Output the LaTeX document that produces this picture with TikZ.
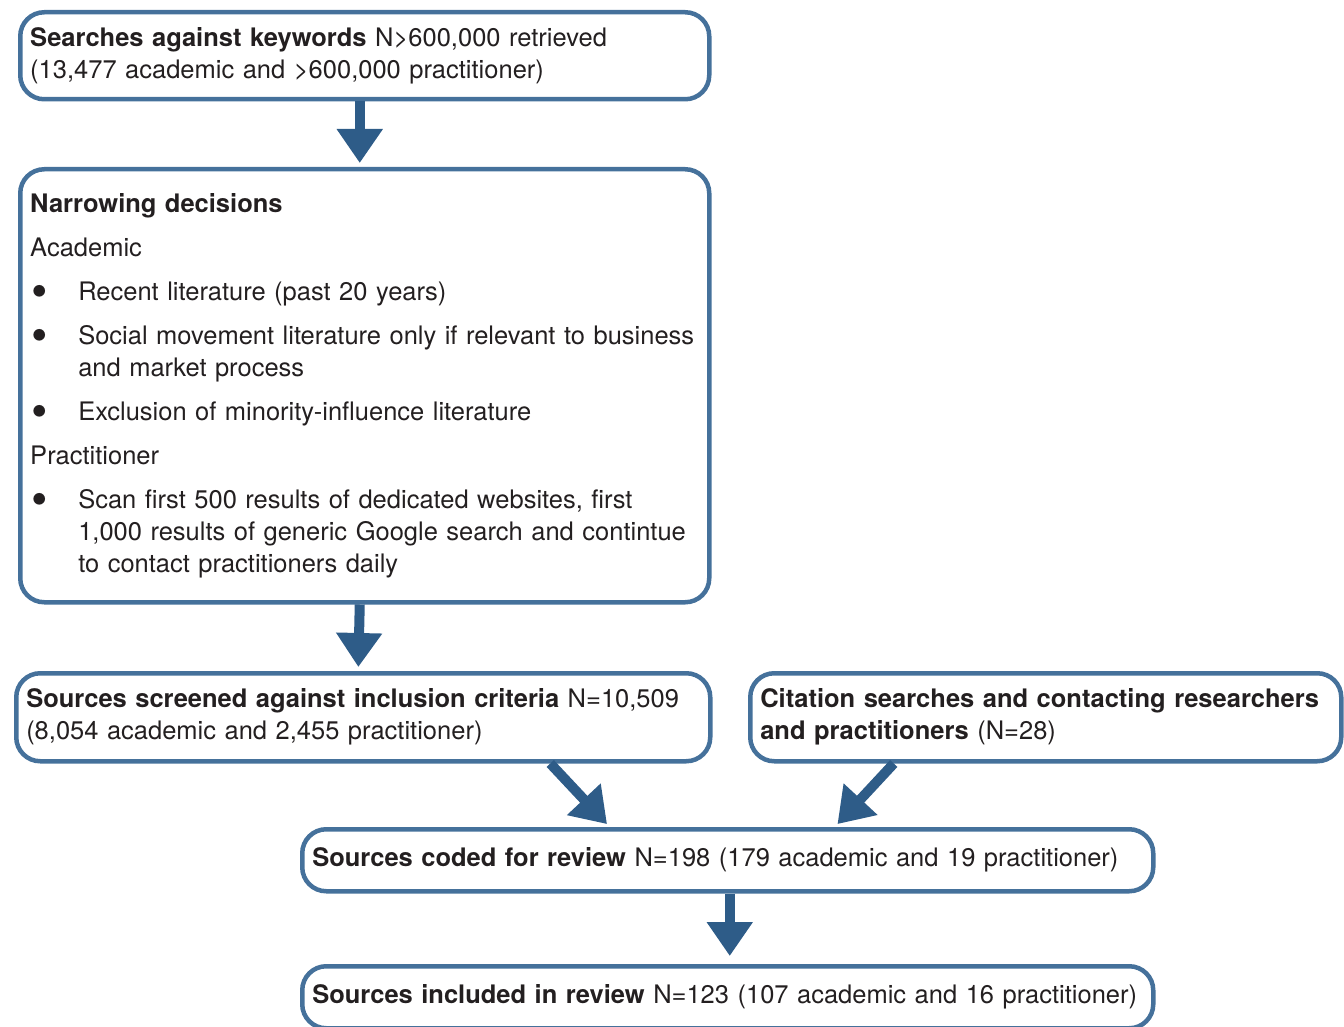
\documentclass[tikz,border=0pt]{standalone}
\usepackage{fontspec}
\setmainfont{TeX Gyre Heros}
\usetikzlibrary{arrows.meta, positioning}

\definecolor{boxblue}{HTML}{45719B}
\definecolor{arrowblue}{HTML}{2E5C88}
\definecolor{inkgray}{HTML}{231F20}

\newcommand{\bitem}[1]{\noindent\makebox[48pt][l]{\hspace{1pt}\smash{\raisebox{-7pt}{\fontsize{47}{32}\selectfont\textbullet}}}%
    \parbox[t]{621pt}{\raggedright #1\par\xdef\bitemdepth{\the\prevdepth}}\par\prevdepth=\bitemdepth\relax}

\begin{document}
\begin{tikzpicture}[x=1pt, y=-1pt,
    stage/.style={draw=boxblue, line width=4.5pt, rounded corners=24pt,
                  anchor=north west, align=left, inner xsep=10pt, inner ysep=0pt,
                  text=inkgray, font=\fontsize{25.5}{32}\selectfont,
                  execute at begin node={\setlength{\parindent}{0pt}\setlength{\parskip}{12pt}}},
    flow/.style={draw=arrowblue, line width=10pt,
                 -{Triangle[width=44pt, length=34pt]}, shorten >=4pt}]

        \useasboundingbox (0,0) rectangle (1344,1027);

        % Draw the stages
        \node[stage, text width=669pt, minimum height=87pt] at (18, 10) (search)
            {\textbf{Searches against keywords} N>600,000 retrieved\\(13,477 academic and >600,000 practitioner)};
        \node[stage, text width=669pt, minimum height=433pt] at (18, 167) (narrow)
            {\textbf{Narrowing decisions}\par
             Academic\par
             \bitem{Recent literature (past 20 years)}
             \bitem{Social movement literature only if relevant to business\\and market process}
             \bitem{Exclusion of minority-influence literature}
             Practitioner\par
             \bitem{Scan first 500 results of dedicated websites, first\\1,000 results of generic Google search and contintue\\to contact practitioners daily}};
        \node[stage, text width=674pt, minimum height=88pt] at (14, 671) (screen)
            {\textbf{Sources screened against inclusion criteria} N=10,509\\(8,054 academic and 2,455 practitioner)};
        \node[stage, text width=571pt, minimum height=88pt] at (748, 671) (cite)
            {\textbf{Citation searches and contacting researchers}\\\textbf{and practitioners} (N=28)};
        \node[stage, text width=831pt, minimum height=62pt] at (300, 827) (coded)
            {\textbf{Sources coded for review} N=198 (179 academic and 19 practitioner)};
        \node[stage, text width=831pt, minimum height=62pt] at (300, 964) (included)
            {\textbf{Sources included in review} N=123 (107 academic and 16 practitioner)};

        % Connect the stages with arrows
        \draw[flow] ([xshift=-5pt]search.south) -- ([xshift=-5pt]narrow.north);
        \draw[flow] ([xshift=-5pt]narrow.south) -- ([xshift=-5pt]screen.north);
        \draw[flow] ([xshift=187pt]screen.south) -- ([xshift=-118pt]coded.north);
        \draw[flow] ([xshift=-152pt]cite.south) -- ([xshift=107pt]coded.north);
        \draw[flow, shorten >=8pt] ([xshift=2pt]coded.south) -- ([xshift=2pt]included.north);
    \end{tikzpicture}
\end{document}
